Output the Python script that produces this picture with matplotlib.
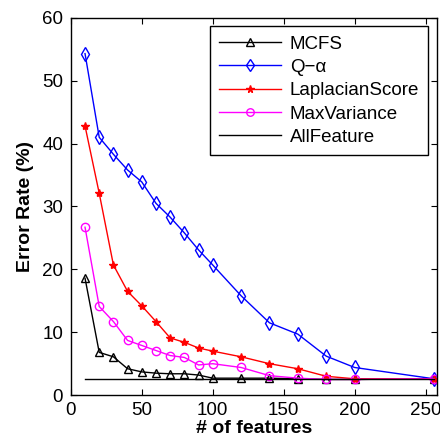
import matplotlib
matplotlib.use('Agg')
from matplotlib import pyplot as plt

plt.rcParams['font.family'] = ['Liberation Sans', 'DejaVu Sans']

# number of selected features
x = [10, 20, 30, 40, 50, 60, 70, 80, 90, 100, 120, 140, 160, 180, 200, 256]

mcfs = [18.6, 6.8, 6.1, 4.2, 3.7, 3.5, 3.4, 3.4, 3.2, 2.7, 2.7, 2.7, 2.6, 2.5, 2.5, 2.6]
q_alpha = [54.3, 41.0, 38.3, 35.8, 33.9, 30.5, 28.3, 25.8, 23.1, 20.7, 15.8, 11.5, 9.7, 6.2, 4.4, 2.6]
laplacian = [42.8, 32.1, 20.7, 16.5, 14.2, 11.7, 9.1, 8.4, 7.5, 7.0, 6.1, 5.0, 4.2, 3.0, 2.6, 2.6]
maxvar = [26.7, 14.1, 11.7, 8.7, 7.9, 7.1, 6.3, 6.0, 4.8, 5.0, 4.4, 3.1, 2.7, 2.5, 2.5, 2.6]
allfeature = 2.6

fig = plt.figure(figsize=(4.4, 4.45), dpi=100)
ax = fig.add_axes([0.161, 0.112, 0.832, 0.848])

ax.plot(x, mcfs, color='black', lw=1, marker='^', ms=6, mfc='none', mew=1, label='MCFS')
ax.plot(x, q_alpha, color='blue', lw=1, marker='d', ms=7, mfc='none', mew=1, label='Q\u2212\u03b1')
ax.plot(x, laplacian, color='red', lw=1, marker='*', ms=6, label='LaplacianScore')
ax.plot(x, maxvar, color='magenta', lw=1, marker='o', ms=6, mfc='none', mew=1, label='MaxVariance')
ax.plot([x[0], x[-1]], [allfeature, allfeature], color='black', lw=1, label='AllFeature')

ax.set_xlim(0, 258)
ax.set_ylim(0, 60)
ax.set_xticks([0, 50, 100, 150, 200, 250])
ax.set_yticks([0, 10, 20, 30, 40, 50, 60])
ax.tick_params(direction='in', labelsize=13.5, top=True, right=True, length=4)
ax.tick_params(axis='y', pad=5.5)
ax.tick_params(axis='x', pad=5)
for s in ax.spines.values():
    s.set_linewidth(1)

ax.set_xlabel('# of features', fontsize=14, fontweight='bold', labelpad=1)
ax.set_ylabel('Error Rate (%)', fontsize=14, fontweight='bold', labelpad=6)

leg = ax.legend(loc='upper right', fontsize=13.5, handlelength=3.3, borderaxespad=0.45,
                fancybox=False, edgecolor='black', framealpha=1, labelspacing=0.33,
                handletextpad=0.45, borderpad=0.5, markerscale=0.9)
leg.get_frame().set_linewidth(1)

plt.savefig('out.png', dpi=100)
